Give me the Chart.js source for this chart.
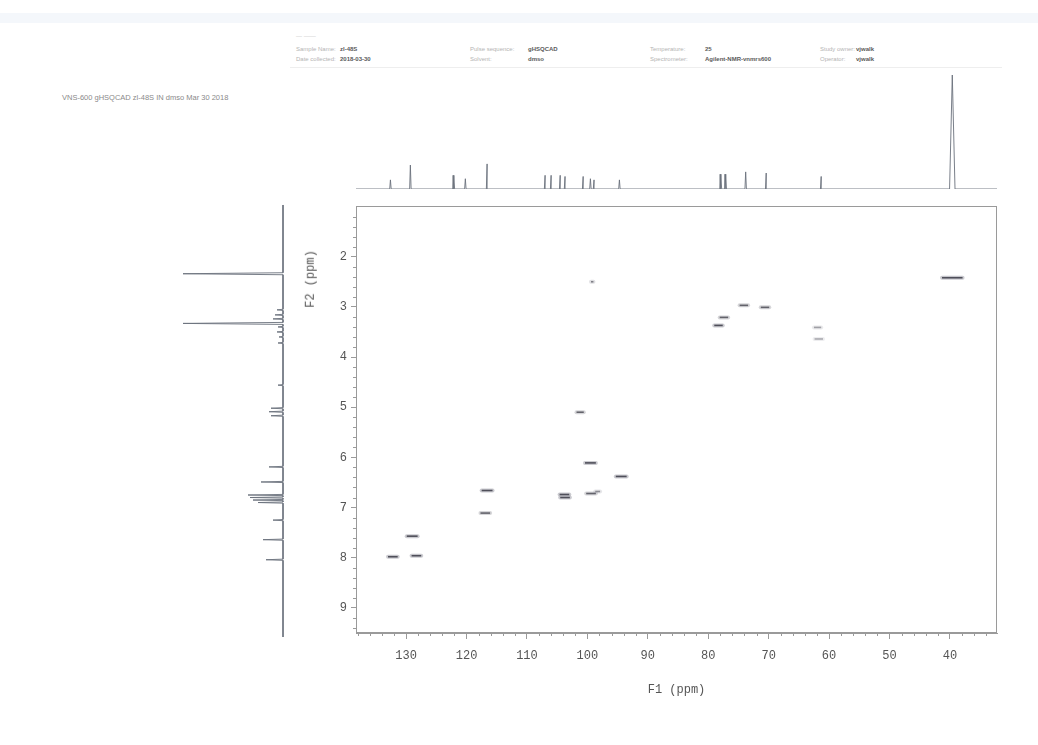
<!DOCTYPE html>
<html>
<head>
<meta charset="utf-8">
<title>gHSQCAD zl-48S</title>
<script src="https://cdn.jsdelivr.net/npm/chart.js@4.4.0/dist/chart.umd.min.js"></script>
<style>
  body { margin: 0; background: #fff; width: 1038px; height: 745px; position: relative; overflow: hidden;
         font-family: 'Liberation Sans', Arial, sans-serif; }
  canvas { position: absolute; }
  .band { position: absolute; left: 0; top: 13px; width: 1038px; height: 10px; background: #f4f7fb; }
  .hdr { position: absolute; font-size: 6px; color: #b4b4b4; white-space: nowrap; }
  .hdr b { color: #5a5a5a; font-weight: bold; }
  .rule { position: absolute; left: 290px; top: 67px; width: 712px; height: 1px; background: #eeeeee; }
  .side { position: absolute; left: 62px; top: 93px; font-size: 7.5px; color: #8a8a8a; white-space: nowrap; }
  .f2title { position: absolute; left: 282px; top: 272px; transform: rotate(-90deg);
             font: 12px 'Liberation Mono', 'DejaVu Sans Mono', monospace; color: #555; white-space: nowrap; }
</style>
</head>
<body>
<div class="band"></div>
<div class="hdr" style="left:296px;top:33px;color:#c8c8c8">— ——</div>
<div class="hdr" style="left:296px;top:46px">Sample Name:</div>
<div class="hdr" style="left:340px;top:46px"><b>zl-48S</b></div>
<div class="hdr" style="left:296px;top:56px">Date collected:</div>
<div class="hdr" style="left:340px;top:56px"><b>2018-03-30</b></div>
<div class="hdr" style="left:470px;top:46px">Pulse sequence:</div>
<div class="hdr" style="left:528px;top:46px"><b>gHSQCAD</b></div>
<div class="hdr" style="left:470px;top:56px">Solvent:</div>
<div class="hdr" style="left:528px;top:56px"><b>dmso</b></div>
<div class="hdr" style="left:650px;top:46px">Temperature:</div>
<div class="hdr" style="left:705px;top:46px"><b>25</b></div>
<div class="hdr" style="left:650px;top:56px">Spectrometer:</div>
<div class="hdr" style="left:705px;top:56px"><b>Agilent-NMR-vnmrs600</b></div>
<div class="hdr" style="left:820px;top:46px">Study owner:</div>
<div class="hdr" style="left:856px;top:46px"><b>vjwalk</b></div>
<div class="hdr" style="left:820px;top:56px">Operator:</div>
<div class="hdr" style="left:856px;top:56px"><b>vjwalk</b></div>
<div class="rule"></div>
<div class="side">VNS-600 gHSQCAD zl-48S IN dmso Mar 30 2018</div>

<canvas id="topSpec" width="720" height="140" style="left:300px;top:60px;width:720px;height:140px"></canvas>
<canvas id="leftSpec" width="130" height="520" style="left:170px;top:190px;width:130px;height:520px"></canvas>
<canvas id="hsqc" width="720" height="520" style="left:300px;top:190px;width:720px;height:520px"></canvas>
<div class="f2title">F2 (ppm)</div>

<script>
// axis ranges (ppm)
const f1Range = [32.2, 138.3];
const f2Range = [0.99, 9.5];
const f1TickLabels = [130, 120, 110, 100, 90, 80, 70, 60, 50, 40];
const f2TickLabels = [2, 3, 4, 5, 6, 7, 8, 9];

// 13C projection (F1): shift, relative height
const carbonShift  = [132.6, 129.3, 122.1, 120.2, 116.6, 107.0, 106.0, 104.5, 103.7, 100.7, 99.5, 98.9, 94.7, 77.9, 77.1, 73.8, 70.4, 61.3, 39.6];
const carbonHeight = [0.08, 0.21, 0.12, 0.09, 0.22, 0.12, 0.12, 0.12, 0.11, 0.11, 0.09, 0.08, 0.08, 0.13, 0.13, 0.15, 0.14, 0.11, 1.0];

// 1H projection (F2): shift, relative height
const protonShift  = [2.34, 3.06, 3.16, 3.24, 3.33, 3.40, 3.50, 3.60, 3.72, 4.56, 5.02, 5.09, 5.17, 6.19, 6.49, 6.75, 6.80, 6.85, 6.90, 7.25, 7.64, 8.04];
const protonHeight = [1.0, 0.06, 0.08, 0.10, 1.0, 0.05, 0.06, 0.04, 0.05, 0.05, 0.12, 0.14, 0.12, 0.14, 0.22, 0.35, 0.33, 0.30, 0.25, 0.10, 0.20, 0.17];

// HSQC cross peaks: F1 centre, F2 centre, F1 extent (ppm), intensity
const crossF1   = [132.2, 129.0, 128.3, 116.6, 116.9, 103.8, 103.7, 99.5, 99.4, 98.3, 94.4, 101.2, 99.2, 78.3, 77.4, 74.1, 70.6, 61.9, 61.7, 39.6];
const crossF2   = [7.98, 7.57, 7.96, 6.66, 7.11, 6.74, 6.80, 6.11, 6.72, 6.68, 6.38, 5.10, 2.50, 3.37, 3.21, 2.97, 3.01, 3.41, 3.64, 2.42];
const crossSpan = [1.6, 1.8, 1.6, 1.8, 1.6, 1.6, 1.6, 1.8, 1.6, 0.8, 1.8, 1.2, 0.4, 1.4, 1.4, 1.4, 1.4, 1.2, 1.4, 3.4];
const crossInt  = [1, 1, 1, 1, 0.8, 1, 1, 1, 0.8, 0.5, 1, 0.8, 0.6, 1, 0.8, 0.8, 0.8, 0.4, 0.35, 1];

const monoFont = "'Liberation Mono', 'DejaVu Sans Mono', monospace";
const axisGrey = '#9a9a9a';
const traceColor = '#6a707c';

// stick-like trace through the baseline and each peak top
function buildTrace(shifts, heights, lo, hi, halfWidth, wideHalfWidth) {
    const order = shifts.map((s, i) => i).sort((a, b) => shifts[a] - shifts[b]);
    const pts = [{ s: lo, h: 0 }];
    order.forEach(i => {
        const w = heights[i] >= 0.9 ? wideHalfWidth : halfWidth;
        pts.push({ s: shifts[i] - w, h: 0 }, { s: shifts[i], h: heights[i] }, { s: shifts[i] + w, h: 0 });
    });
    pts.push({ s: hi, h: 0 });
    return pts;
}

const framePlugin = {
    id: 'frame',
    afterDraw(chart) {
        const { ctx, chartArea: a, scales: { x, y } } = chart;
        ctx.save();
        ctx.strokeStyle = axisGrey;
        ctx.lineWidth = 1;
        ctx.strokeRect(Math.round(a.left) + 0.5, Math.round(a.top) + 0.5, Math.round(a.width) - 1, Math.round(a.height) - 1);
        ctx.beginPath();
        for (let v = 34; v <= 138; v += 2) {
            if (v % 10 === 0) continue;
            const px = Math.round(x.getPixelForValue(v)) + 0.5;
            ctx.moveTo(px, a.bottom);
            ctx.lineTo(px, a.bottom + 3);
        }
        for (let k = 5; k <= 47; k++) {
            if (k % 5 === 0) continue;
            const py = Math.round(y.getPixelForValue(k / 5)) + 0.5;
            ctx.moveTo(a.left - 3, py);
            ctx.lineTo(a.left, py);
        }
        ctx.stroke();
        ctx.restore();
    }
};

// top projection
const topPts = buildTrace(carbonShift, carbonHeight, f1Range[0], f1Range[1], 0.12, 0.45);
new Chart(document.getElementById('topSpec'), {
    type: 'scatter',
    data: { datasets: [{ data: topPts.map(p => ({ x: p.s, y: p.h })), showLine: true, borderColor: traceColor, borderWidth: 0.9, pointRadius: 0 }] },
    options: {
        responsive: false, animation: false, events: [],
        layout: { padding: { left: 56, right: 23, top: 15, bottom: 11 } },
        plugins: { legend: { display: false }, tooltip: { enabled: false } },
        scales: {
            x: { type: 'linear', reverse: true, min: f1Range[0], max: f1Range[1], display: false },
            y: { type: 'linear', min: 0, max: 1, display: false }
        }
    }
});

// left projection
const leftPts = buildTrace(protonShift, protonHeight, f2Range[0] - 0.02, f2Range[1] + 0.08, 0.012, 0.02);
new Chart(document.getElementById('leftSpec'), {
    type: 'scatter',
    data: { datasets: [{ data: leftPts.map(p => ({ x: p.h, y: p.s })), showLine: true, borderColor: traceColor, borderWidth: 0.9, pointRadius: 0 }] },
    options: {
        responsive: false, animation: false, events: [],
        clip: false,
        layout: { padding: { left: 13, right: 17, top: 16, bottom: 77 } },
        plugins: { legend: { display: false }, tooltip: { enabled: false } },
        scales: {
            x: { type: 'linear', reverse: true, min: 0, max: 1, display: false },
            y: { type: 'linear', reverse: true, min: f2Range[0], max: f2Range[1], display: false }
        }
    }
});

// HSQC map
const crossSets = [];
crossF1.forEach((f1, i) => {
    const seg = [{ x: f1 - crossSpan[i] / 2, y: crossF2[i] }, { x: f1 + crossSpan[i] / 2, y: crossF2[i] }];
    const t = crossInt[i];
    crossSets.push({ data: seg, showLine: true, pointRadius: 0, borderWidth: 4, borderCapStyle: 'round',
                     borderColor: `rgba(140,140,150,${0.45 * t})` });
    crossSets.push({ data: seg, showLine: true, pointRadius: 0, borderWidth: 1.6,
                     borderColor: `rgba(30,30,40,${t})` });
});

new Chart(document.getElementById('hsqc'), {
    type: 'scatter',
    data: { datasets: crossSets },
    options: {
        responsive: false, animation: false, events: [],
        layout: { padding: { left: 0, right: 23, top: 16, bottom: 13 } },
        plugins: { legend: { display: false }, tooltip: { enabled: false } },
        scales: {
            x: {
                type: 'linear', reverse: true, min: f1Range[0], max: f1Range[1],
                afterBuildTicks: s => { s.ticks = f1TickLabels.map(v => ({ value: v })); },
                afterFit: s => { s.height = 64; },
                grid: { drawOnChartArea: false, drawTicks: true, tickLength: 6, color: axisGrey },
                border: { color: axisGrey },
                ticks: { font: { family: monoFont, size: 12 }, color: '#555', padding: 10, maxRotation: 0 },
                title: { display: true, text: 'F1 (ppm)', font: { family: monoFont, size: 12 }, color: '#555', padding: { top: 0, bottom: 0 } }
            },
            y: {
                type: 'linear', reverse: true, min: f2Range[0], max: f2Range[1],
                afterBuildTicks: s => { s.ticks = f2TickLabels.map(v => ({ value: v })); },
                afterFit: s => { s.width = 56; },
                grid: { drawOnChartArea: false, drawTicks: true, tickLength: 5, color: axisGrey },
                border: { color: axisGrey },
                ticks: { font: { family: monoFont, size: 12 }, color: '#555', padding: 4 }
            }
        }
    },
    plugins: [framePlugin]
});
</script>
</body>
</html>
